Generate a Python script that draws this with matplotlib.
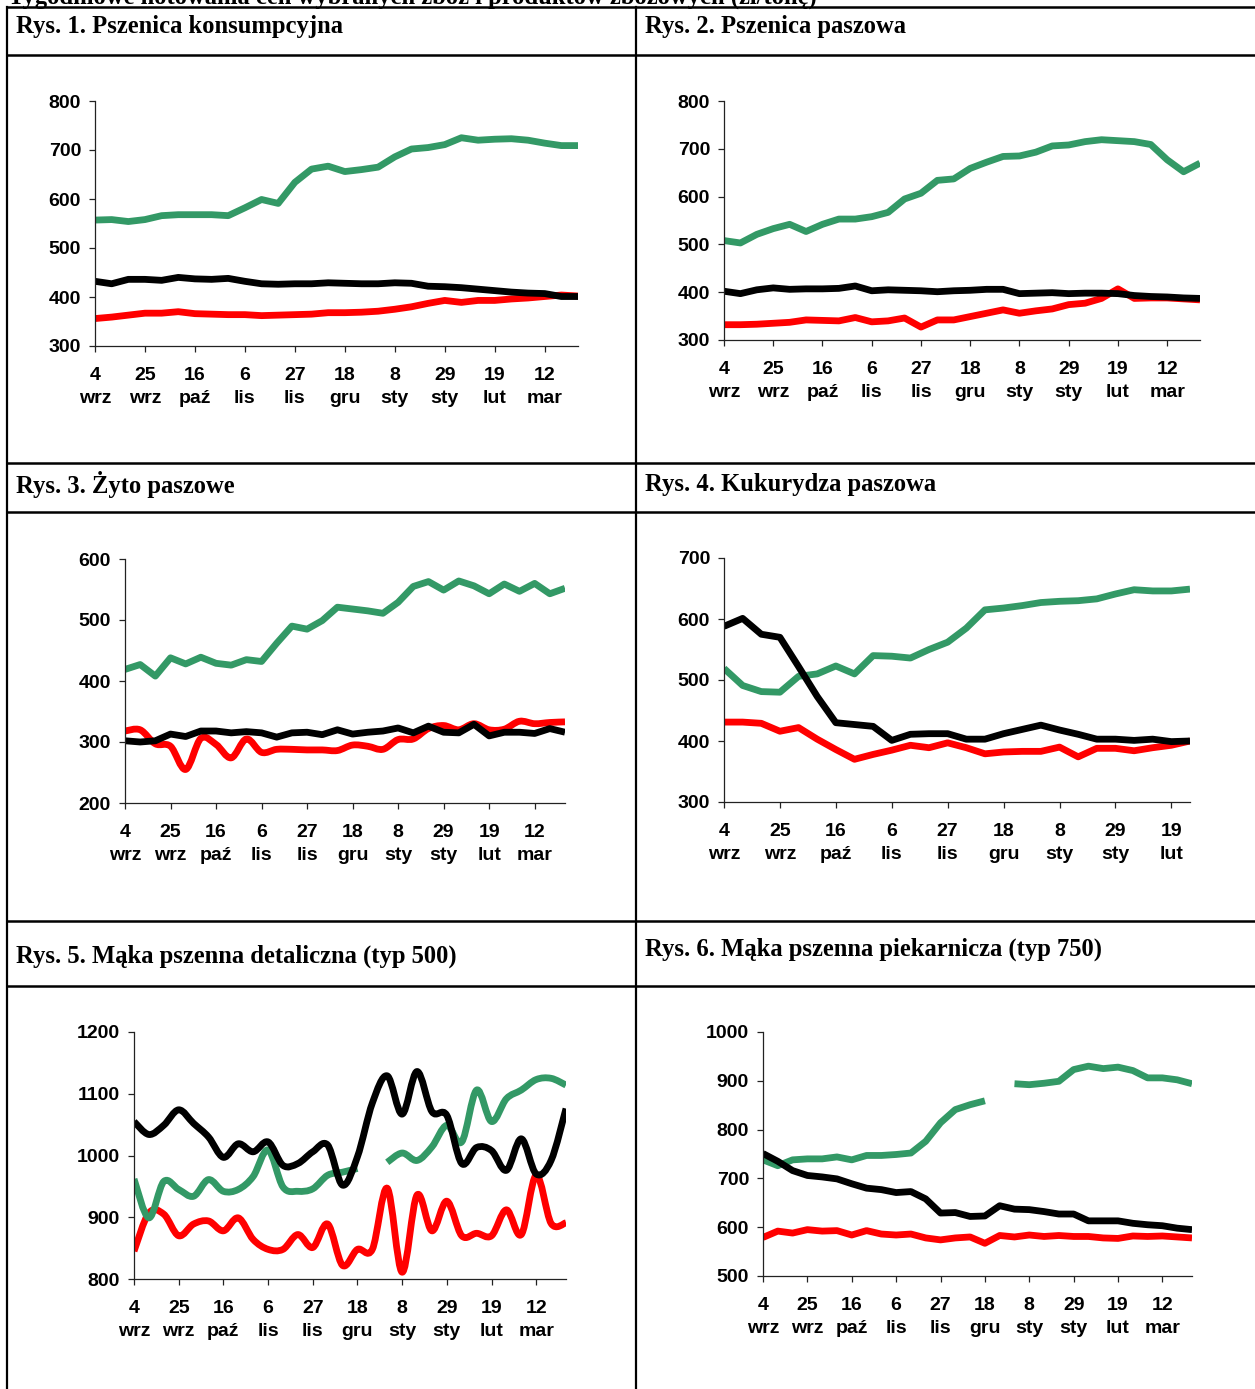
import numpy as np
import matplotlib
matplotlib.use("Agg")
import matplotlib.pyplot as plt
from matplotlib.lines import Line2D
from matplotlib.path import Path
from matplotlib.patches import PathPatch

W, H = 1255, 1389

tick_labels = ["4\nwrz", "25\nwrz", "16\npaź", "6\nlis", "27\nlis",
               "18\ngru", "8\nsty", "29\nsty", "19\nlut", "12\nmar"]

GREEN = "#339966"
RED = "#ff0000"
BLACK = "#000000"

# Rys. 1 Pszenica konsumpcyjna
p1_green = [557, 558, 554, 558, 566, 568, 568, 568, 566, 582, 599, 591, 634, 661, 667,
            656, 660, 665, 686, 702, 705, 711, 725, 720, 722, 723, 720, 714, 709, 709]
p1_black = [432, 427, 436, 436, 434, 440, 437, 436, 438, 432, 427, 426, 427, 427, 429,
            428, 427, 427, 429, 428, 422, 421, 419, 416, 413, 410, 408, 407, 401, 401]
p1_red = [356, 359, 363, 367, 367, 370, 366, 365, 364, 364, 362, 363, 364, 365, 368,
          368, 369, 371, 375, 380, 387, 393, 389, 393, 393, 396, 398, 401, 404, 402]

# Rys. 2 Pszenica paszowa
p2_green = [508, 503, 521, 533, 542, 527, 542, 553, 553, 558, 567, 595, 607, 634, 637,
            659, 672, 684, 685, 693, 706, 708, 715, 719, 717, 715, 709, 677, 652, 670]
p2_black = [402, 397, 405, 409, 406, 407, 407, 408, 413, 403, 405, 404, 403, 401, 403,
            404, 406, 406, 397, 398, 399, 397, 398, 398, 397, 393, 391, 390, 388, 387]
p2_red = [332, 332, 333, 335, 337, 342, 341, 340, 347, 338, 340, 346, 327, 342, 342,
          349, 356, 363, 356, 361, 365, 374, 377, 387, 407, 387, 388, 388, 386, 384]

# Rys. 3 Zyto paszowe
p3_green = [419, 427, 408, 438, 428, 439, 429, 426, 435, 432, 462, 490, 485, 499, 521,
            518, 515, 511, 529, 555, 563, 549, 564, 556, 543, 559, 547, 560, 543, 552]
p3_black = [302, 300, 302, 313, 309, 318, 318, 315, 317, 315, 308, 315, 316, 312, 320,
            313, 316, 318, 323, 315, 326, 316, 315, 329, 310, 316, 316, 314, 322, 316]
p3_red = [318, 320, 297, 293, 255, 306, 296, 274, 305, 283, 288, 288, 287, 287, 286,
          295, 293, 288, 304, 305, 322, 327, 320, 330, 320, 321, 334, 330, 332, 333]

# Rys. 4 Kukurydza paszowa
p4_green = [519, 491, 481, 480, 506, 510, 523, 510, 540, 539, 536, 550, 562, 585, 615,
            618, 622, 627, 629, 630, 633, 641, 648, 646, 646, 649]
p4_black = [588, 601, 575, 570, 522, 473, 430, 427, 424, 401, 411, 412, 412, 403, 403,
            412, 419, 426, 418, 411, 403, 403, 401, 403, 399, 400]
p4_red = [431, 431, 429, 416, 422, 403, 386, 370, 378, 385, 393, 389, 397, 389, 379,
          382, 383, 383, 390, 374, 388, 388, 384, 389, 393, 400]

# Rys. 5 Maka pszenna detaliczna (typ 500)
p5_green = [962, 899, 958, 945, 934, 961, 942, 945, 966, 1009, 949, 942, 946, 968, 973,
            979, np.nan, 989, 1004, 992, 1014, 1049, 1022, 1106, 1055, 1092, 1106, 1123, 1125, 1114]
p5_black = [1055, 1034, 1049, 1074, 1052, 1030, 997, 1019, 1006, 1022, 984, 987, 1006, 1017, 952,
            998, 1085, 1129, 1067, 1136, 1071, 1065, 987, 1013, 1008, 976, 1027, 970, 992, 1076]
p5_red = [845, 907, 905, 870, 889, 894, 878, 899, 864, 848, 848, 872, 851, 889, 822,
          848, 848, 947, 811, 936, 878, 926, 870, 874, 870, 912, 872, 968, 890, 891]

# Rys. 6 Maka pszenna piekarnicza (typ 750)
p6_green = [738, 726, 738, 740, 740, 744, 738, 747, 747, 749, 752, 776, 814, 841, 851,
            859, np.nan, 894, 892, 895, 899, 923, 930, 925, 928, 921, 906, 906, 902, 894]
p6_black = [751, 735, 716, 706, 703, 699, 689, 680, 677, 671, 673, 658, 629, 630, 622,
            623, 644, 637, 636, 632, 627, 627, 613, 613, 613, 608, 605, 603, 598, 595]
p6_red = [579, 592, 588, 595, 592, 593, 584, 593, 586, 584, 586, 578, 574, 578, 580,
          567, 583, 580, 584, 581, 583, 581, 581, 578, 577, 582, 581, 582, 580, 578]

plt.rcParams["font.family"] = ["Liberation Sans", "DejaVu Sans"]

fig = plt.figure(figsize=(W / 100, H / 100), dpi=100)


def fx(x):
    return x / W


def fy(y):
    return 1 - y / H


def hline(y, x0=7, x1=W):
    fig.add_artist(Line2D([fx(x0), fx(x1)], [fy(y), fy(y)], color="black",
                          lw=1.8, transform=fig.transFigure))


def vline(x, y0=7, y1=H):
    fig.add_artist(Line2D([fx(x), fx(x)], [fy(y0), fy(y1)], color="black",
                          lw=1.6, transform=fig.transFigure))


for y in [7, 55, 463, 512, 921, 986]:
    hline(y)
for x in [7, 636]:
    vline(x)

# heading of the page, cut off at the top edge like in the source scan
fig.text(fx(8), fy(4), "Tygodniowe notowania cen wybranych zbóż i produktów zbożowych (zł/tonę)",
         family="Liberation Serif", weight="bold", fontsize=17.7, va="baseline", ha="left")

titles = [
    (16, 27, "Rys. 1. Pszenica konsumpcyjna"),
    (645, 27, "Rys. 2. Pszenica paszowa"),
    (16, 484, "Rys. 3. Żyto paszowe"),
    (645, 484, "Rys. 4. Kukurydza paszowa"),
    (16, 956, "Rys. 5. Mąka pszenna detaliczna (typ 500)"),
    (645, 949, "Rys. 6. Mąka pszenna piekarnicza (typ 750)"),
]
for x, y, t in titles:
    fig.text(fx(x), fy(y), t, family="Liberation Serif", weight="bold",
             fontsize=17.7, va="center", ha="left")


def smooth_path(xs, ys):
    # Bezier segments through the points, like a spreadsheet "smoothed line"
    verts, codes = [], []
    n = len(xs)
    for i in range(n - 1):
        p0 = np.array([xs[max(i - 1, 0)], ys[max(i - 1, 0)]])
        p1 = np.array([xs[i], ys[i]])
        p2 = np.array([xs[i + 1], ys[i + 1]])
        p3 = np.array([xs[min(i + 2, n - 1)], ys[min(i + 2, n - 1)]])
        c1 = p1 + (p2 - p0) / 6
        c2 = p2 - (p3 - p1) / 6
        if i == 0:
            verts.append(p1)
            codes.append(Path.MOVETO)
        verts += [c1, c2, p2]
        codes += [Path.CURVE4] * 3
    return Path(verts, codes)


LW = 4.9


def draw_series(ax, vals, color, smooth=False):
    vals = np.asarray(vals, dtype=float)
    x = np.arange(len(vals))
    if not smooth:
        ax.plot(x, vals, color=color, lw=LW, solid_joinstyle="round",
                solid_capstyle="butt")
        return
    ok = ~np.isnan(vals)
    # split into runs without gaps
    start = None
    for i in range(len(vals) + 1):
        good = i < len(vals) and ok[i]
        if good and start is None:
            start = i
        elif not good and start is not None:
            seg_x, seg_y = x[start:i], vals[start:i]
            if len(seg_x) > 1:
                ax.add_patch(PathPatch(smooth_path(seg_x, seg_y), fill=False,
                                       edgecolor=color, lw=LW, joinstyle="round",
                                       capstyle="butt"))
            start = None


def make_axes(box, ylim, yticks, n, series, nlabels=10):
    l, t, r, b = box
    ax = fig.add_axes([fx(l), fy(b), (r - l) / W, (b - t) / H])
    for vals, color, sm in series:
        draw_series(ax, vals, color, sm)
    ax.set_xlim(0, n - 1)
    ax.set_ylim(*ylim)
    ax.set_yticks(yticks)
    ax.set_yticklabels([str(v) for v in yticks])
    ax.set_xticks(np.arange(0, 3 * nlabels, 3))
    ax.set_xticklabels(tick_labels[:nlabels], linespacing=1.5)
    for s in ["top", "right"]:
        ax.spines[s].set_visible(False)
    for s in ["left", "bottom"]:
        ax.spines[s].set_linewidth(0.9)
        ax.spines[s].set_color("#222222")
    ax.tick_params(axis="both", direction="out", length=4, width=0.9,
                   labelsize=14, color="#222222")
    ax.tick_params(axis="y", pad=6)
    ax.tick_params(axis="x", pad=11)
    for lab in ax.get_xticklabels() + ax.get_yticklabels():
        lab.set_fontweight("bold")
    ax.set_facecolor("none")
    return ax


make_axes((95, 101, 578, 346), (300, 800), [300, 400, 500, 600, 700, 800], 30,
          [(p1_red, RED, False), (p1_green, GREEN, False), (p1_black, BLACK, False)])
make_axes((724, 101, 1200, 340), (300, 800), [300, 400, 500, 600, 700, 800], 30,
          [(p2_red, RED, False), (p2_green, GREEN, False), (p2_black, BLACK, False)])
make_axes((125, 559, 565, 803), (200, 600), [200, 300, 400, 500, 600], 30,
          [(p3_red, RED, True), (p3_green, GREEN, False), (p3_black, BLACK, False)])
make_axes((724, 558, 1190, 802), (300, 700), [300, 400, 500, 600, 700], 26,
          [(p4_red, RED, False), (p4_green, GREEN, False), (p4_black, BLACK, False)],
          nlabels=9)
make_axes((134, 1032, 566, 1279), (800, 1200), [800, 900, 1000, 1100, 1200], 30,
          [(p5_red, RED, True), (p5_green, GREEN, True), (p5_black, BLACK, True)])
make_axes((763, 1032, 1192, 1276), (500, 1000), [500, 600, 700, 800, 900, 1000], 30,
          [(p6_red, RED, False), (p6_green, GREEN, False), (p6_black, BLACK, False)])

fig.savefig("out.png", dpi=100)
